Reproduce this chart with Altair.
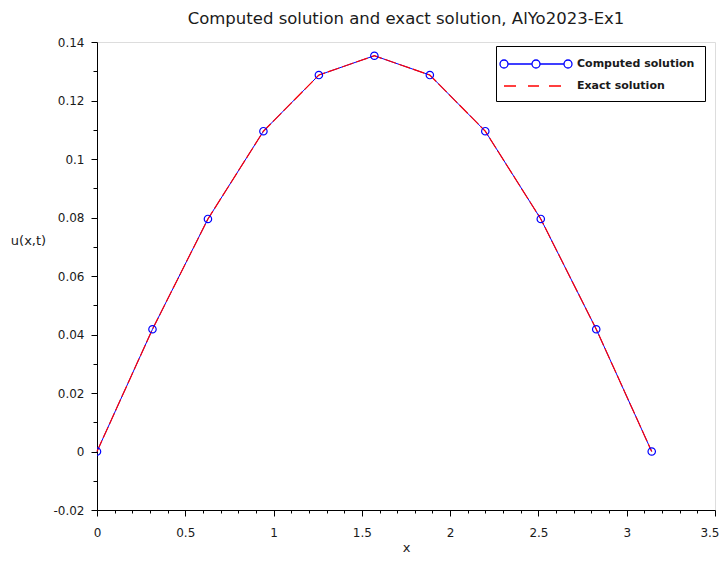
import altair as alt
import pandas as pd

# ---- data ----
x_vals = [0.0, 0.3142, 0.6283, 0.9425, 1.2566, 1.5708, 1.8850, 2.1991, 2.5133, 2.8274, 3.1416]
computed_u = [0.0, 0.0418, 0.0795, 0.1095, 0.1287, 0.1353, 0.1287, 0.1095, 0.0795, 0.0418, 0.0]
exact_u = [0.0, 0.0418, 0.0795, 0.1095, 0.1287, 0.1353, 0.1287, 0.1095, 0.0795, 0.0418, 0.0]
series_names = ["Computed solution", "Exact solution"]
series_colors = ["#0000ff", "#ff0000"]

# ---- tick labels ----
x_major = [0, 0.5, 1, 1.5, 2, 2.5, 3, 3.5]
x_ticks = [round(i * 0.1, 1) for i in range(36)]
y_major = [-0.02, 0, 0.02, 0.04, 0.06, 0.08, 0.1, 0.12, 0.14]
y_ticks = [round(-0.02 + i * 0.01, 2) for i in range(17)]

FONT = "DejaVu Sans"
TXT = "#1a1a1a"

rows = []
for xv, cu in zip(x_vals, computed_u):
    rows.append({"x": xv, "u": cu, "series": series_names[0]})
for xv, eu in zip(x_vals, exact_u):
    rows.append({"x": xv, "u": eu, "series": series_names[1]})
df = pd.DataFrame(rows)


def is_major(arr):
    return "indexof([" + ",".join(repr(float(v)) for v in arr) + "], datum.value) >= 0"


last_x = "datum.value == " + repr(float(x_major[-1]))

x_enc = alt.X(
    "x:Q",
    scale=alt.Scale(domain=[0, 3.5], nice=False, zero=False),
    axis=alt.Axis(
        values=x_ticks,
        labelExpr=is_major(x_major) + " ? '' + datum.value : ''",
        tickSize={"condition": {"test": is_major(x_major), "value": 6}, "value": 3},
        labelAlign={"condition": {"test": last_x, "value": "right"}, "value": "center"},
        labelOffset={"condition": {"test": last_x, "value": 4}, "value": 0},
        title="x",
        titleY=41,
        titleBaseline="alphabetic",
        titleFont=FONT,
        titleFontSize=13,
        titleFontWeight="normal",
        titleColor=TXT,
        grid=False,
        domainColor="black",
        tickColor="black",
        labelFont=FONT,
        labelFontSize=12,
        labelColor=TXT,
        labelPadding=11,
        labelFlush=False,
        labelOverlap=False,
    ),
)
y_enc = alt.Y(
    "u:Q",
    scale=alt.Scale(domain=[-0.02, 0.14], nice=False, zero=False),
    axis=alt.Axis(
        values=y_ticks,
        labelExpr=is_major(y_major) + " ? '' + datum.value : ''",
        tickSize={"condition": {"test": is_major(y_major), "value": 6}, "value": 4},
        title="u(x,t)",
        titleAngle=0,
        titleX=-69,
        titleY=198,
        titleAlign="center",
        titleBaseline="middle",
        titleFont=FONT,
        titleFontSize=13,
        titleFontWeight="normal",
        titleColor=TXT,
        grid=False,
        domainColor="black",
        tickColor="black",
        labelFont=FONT,
        labelFontSize=12,
        labelColor=TXT,
        labelPadding=7,
        labelFlush=False,
        labelOverlap=False,
    ),
)

base = alt.Chart(df)

comp_line = base.transform_filter(alt.datum.series == series_names[0]).mark_line(
    color=series_colors[0], strokeWidth=1
).encode(x=x_enc, y=y_enc)

exact_line = base.transform_filter(alt.datum.series == series_names[1]).mark_line(
    color=series_colors[1], strokeWidth=1.2, strokeDash=[12, 3]
).encode(x=x_enc, y=y_enc)

points = base.transform_filter(alt.datum.series == series_names[0]).mark_point(
    shape="circle", size=55, filled=False, color=series_colors[0], strokeWidth=1.2,
    opacity=1, clip=True
).encode(x=x_enc, y=y_enc)

# ---- legend symbols as custom paths (units of 7px) ----
U = 7.0


def circ(cx, r):
    a, b = (cx - r) / U, (cx + r) / U
    rr = r / U
    return f"M{a:.4f},0A{rr:.4f},{rr:.4f} 0 1,0 {b:.4f},0A{rr:.4f},{rr:.4f} 0 1,0 {a:.4f},0Z"


def seg(x0, x1):
    return f"M{x0 / U:.4f},0L{x1 / U:.4f},0"


R = 4
centers = [-10, 22, 54]
comp_path = "".join(circ(c, R) for c in centers) + seg(centers[0] + R, centers[1] - R) + seg(centers[1] + R, centers[2] - R)
exact_path = seg(-10, 2) + seg(14, 25) + seg(35, 47)

legend_layer = base.mark_point(opacity=0, filled=False).encode(
    x=x_enc,
    y=y_enc,
    color=alt.Color(
        "series:N",
        scale=alt.Scale(domain=series_names, range=series_colors),
        legend=alt.Legend(
            title=None,
            orient="none",
            legendX=399,
            legendY=4,
            padding=10,
            strokeColor="black",
            fillColor="white",
            symbolSize=196,
            symbolStrokeWidth=1.3,
            symbolOpacity=1,
            labelOffset=55,
            labelFont=FONT,
            labelFontSize=11,
            labelFontWeight="bold",
            labelColor=TXT,
            rowPadding=7,
        ),
    ),
    shape=alt.Shape(
        "series:N",
        scale=alt.Scale(domain=series_names, range=[comp_path, exact_path]),
    ),
)

chart = alt.layer(comp_line, exact_line, points, legend_layer).properties(
    width=618,
    height=468,
    autosize=alt.AutoSizeParams(type="none"),
    padding={"left": 89, "top": 34, "right": 4, "bottom": 46},
    title=alt.TitleParams(
        "Computed solution and exact solution, AlYo2023-Ex1",
        anchor="middle",
        font=FONT,
        fontSize=16.5,
        fontWeight="normal",
        color=TXT,
        offset=9,
    ),
).configure_view(stroke="black", strokeWidth=1).configure(background="white")

chart.save("out.html", embed_options={"renderer": "svg", "actions": False})
